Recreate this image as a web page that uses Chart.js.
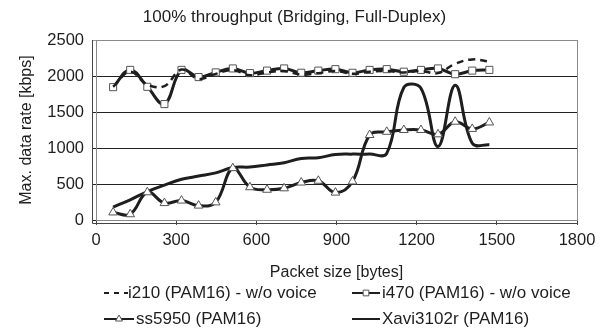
<!DOCTYPE html>
<html>
<head>
<meta charset="utf-8">
<script src="https://cdn.jsdelivr.net/npm/chart.js@4.4.1/dist/chart.umd.min.js"></script>
<style>
  html, body { margin: 0; padding: 0; background: #fff; }
  #wrap { width: 605px; height: 332px; }
</style>
</head>
<body>
<div id="wrap"><canvas id="chart1" width="605" height="332"></canvas></div>
<script>
// packet sizes on the x axis (bytes)
var packetSizes = [64, 128, 192, 256, 320, 384, 448, 512, 576, 640, 704, 768, 832, 896, 960, 1024, 1088, 1152, 1216, 1280, 1344, 1408, 1472];

// max. data rate (kbps) per device
var i210 = [1850, 2060, 1880, 1860, 2090, 1960, 2030, 2080, 2010, 2050, 2070, 2020, 2040, 2070, 2030, 2060, 2070, 2050, 2070, 2040, 2170, 2230, 2200];
var i470 = [1845, 2085, 1850, 1610, 2085, 1985, 2050, 2105, 2040, 2075, 2105, 2045, 2075, 2095, 2045, 2085, 2095, 2060, 2085, 2105, 2025, 2075, 2085];
var ss5950 = [105, 80, 385, 235, 270, 200, 245, 720, 455, 420, 440, 520, 545, 380, 535, 1180, 1225, 1250, 1250, 1190, 1365, 1265, 1355];
var xavi = [180, 280, 395, 485, 565, 610, 655, 730, 735, 765, 795, 855, 865, 910, 915, 915, 925, 1840, 1830, 1020, 1870, 1065, 1045];

var xTicks = [0, 300, 600, 900, 1200, 1500, 1800];
var yTicks = [0, 500, 1000, 1500, 2000, 2500];

var FONT = "'Liberation Sans', Arial, sans-serif";
var INK = "#1e1e1e";

function toPoints(values) {
  return values.map(function (v, i) {
    return { x: packetSizes[i], y: v };
  });
}

// legend is drawn by hand so it sits in two fixed columns like the original
var legendPlugin = {
  id: "handLegend",
  afterDraw: function (chart) {
    var ctx = chart.ctx;
    var items = [
      { ds: 0, x: 104, y: 293, len: 24, tx: 128, dash: [5, 5] },
      { ds: 1, x: 352, y: 293, len: 28, tx: 382 },
      { ds: 2, x: 104, y: 319, len: 30, tx: 136 },
      { ds: 3, x: 352, y: 319, len: 28, tx: 382 }
    ];
    ctx.save();
    items.forEach(function (it) {
      var d = chart.data.datasets[it.ds];
      ctx.strokeStyle = d.borderColor;
      ctx.lineWidth = 2;
      ctx.setLineDash(it.dash || []);
      ctx.beginPath();
      ctx.moveTo(it.x, it.y);
      ctx.lineTo(it.x + it.len, it.y);
      ctx.stroke();
      ctx.setLineDash([]);
      if (d.pointStyle && d.pointRadius > 0) {
        ctx.fillStyle = d.pointBackgroundColor;
        ctx.strokeStyle = d.pointBorderColor;
        ctx.lineWidth = 1;
        Chart.helpers.drawPoint(ctx, { pointStyle: d.pointStyle, radius: 4, borderWidth: 1 }, it.x + it.len / 2, it.y);
      }
      ctx.fillStyle = INK;
      ctx.font = "17px " + FONT;
      ctx.textBaseline = "middle";
      ctx.textAlign = "left";
      ctx.fillText(d.label, it.tx, it.y);
    });
    ctx.restore();
  }
};

// plot frame: grey box plus the doubled axis lines left and bottom
var framePlugin = {
  id: "frame",
  beforeDatasetsDraw: function (chart) {
    var a = chart.chartArea;
    var ctx = chart.ctx;
    ctx.save();
    ctx.strokeStyle = "#8a8a8a";
    ctx.lineWidth = 1;
    ctx.strokeRect(a.left + 0.5, a.top + 0.5, a.right - a.left, a.bottom - a.top);
    ctx.strokeStyle = "#444";
    ctx.beginPath();
    ctx.moveTo(a.left - 3.5, a.top);
    ctx.lineTo(a.left - 3.5, a.bottom + 3.5);
    ctx.lineTo(a.right + 0.5, a.bottom + 3.5);
    ctx.stroke();
    ctx.restore();
  }
};

function plainNumber(v) {
  return String(v);
}

var ctx = document.getElementById("chart1").getContext("2d");
var chart = new Chart(ctx, {
  type: "line",
  data: {
    datasets: [
      {
        label: "i210 (PAM16) - w/o voice",
        data: toPoints(i210),
        borderColor: INK,
        borderWidth: 2.5,
        borderDash: [7, 5],
        pointRadius: 0,
        tension: 0.4
      },
      {
        label: "i470 (PAM16) - w/o voice",
        data: toPoints(i470),
        borderColor: INK,
        borderWidth: 3,
        pointStyle: "rect",
        pointRadius: 5,
        pointBorderWidth: 1,
        pointBorderColor: "#555",
        pointBackgroundColor: "#fff",
        tension: 0.4
      },
      {
        label: "ss5950 (PAM16)",
        data: toPoints(ss5950),
        borderColor: INK,
        borderWidth: 3,
        pointStyle: "triangle",
        pointRadius: 5,
        pointBorderWidth: 1,
        pointBorderColor: "#555",
        pointBackgroundColor: "#fff",
        tension: 0.4
      },
      {
        label: "Xavi3102r (PAM16)",
        data: toPoints(xavi),
        borderColor: INK,
        borderWidth: 3,
        pointRadius: 0,
        tension: 0.4
      }
    ]
  },
  options: {
    responsive: false,
    animation: false,
    layout: { padding: { left: 12, right: 28, top: 0, bottom: 50 } },
    plugins: {
      legend: { display: false },
      tooltip: { enabled: false },
      title: {
        display: true,
        text: "100% throughput (Bridging, Full-Duplex)",
        color: INK,
        font: { family: FONT, size: 17, weight: "normal" },
        padding: { top: 7, bottom: 12.6 }
      }
    },
    scales: {
      x: {
        type: "linear",
        min: xTicks[0],
        max: xTicks[xTicks.length - 1],
        afterBuildTicks: function (scale) {
          scale.ticks = xTicks.map(function (v) { return { value: v }; });
        },
        afterFit: function (scale) { scale.height = 62; },
        ticks: { color: INK, font: { family: FONT, size: 16.5 }, padding: 6, maxRotation: 0, callback: plainNumber },
        grid: { drawOnChartArea: false, tickLength: 5, color: "#444" },
        border: { color: "#222", width: 1 },
        title: {
          display: true,
          text: "Packet size [bytes]",
          color: INK,
          font: { family: FONT, size: 16 },
          padding: { top: 0, bottom: 0 }
        }
      },
      y: {
        min: yTicks[0],
        max: yTicks[yTicks.length - 1],
        afterBuildTicks: function (scale) {
          scale.ticks = yTicks.map(function (v) { return { value: v }; });
        },
        afterFit: function (scale) { scale.width = 84; },
        ticks: { color: INK, font: { family: FONT, size: 16.5 }, padding: 8, callback: plainNumber },
        grid: {
          tickLength: 4,
          color: function (c) {
            return c.tick && c.tick.value === 2500 ? "#9a9a9a" : "#222";
          }
        },
        border: { color: "#222", width: 1 },
        title: {
          display: true,
          text: "Max. data rate [kbps]",
          color: INK,
          font: { family: FONT, size: 16 },
          padding: { top: 5, bottom: 0 }
        }
      }
    }
  },
  plugins: [framePlugin, legendPlugin]
});
</script>
</body>
</html>
